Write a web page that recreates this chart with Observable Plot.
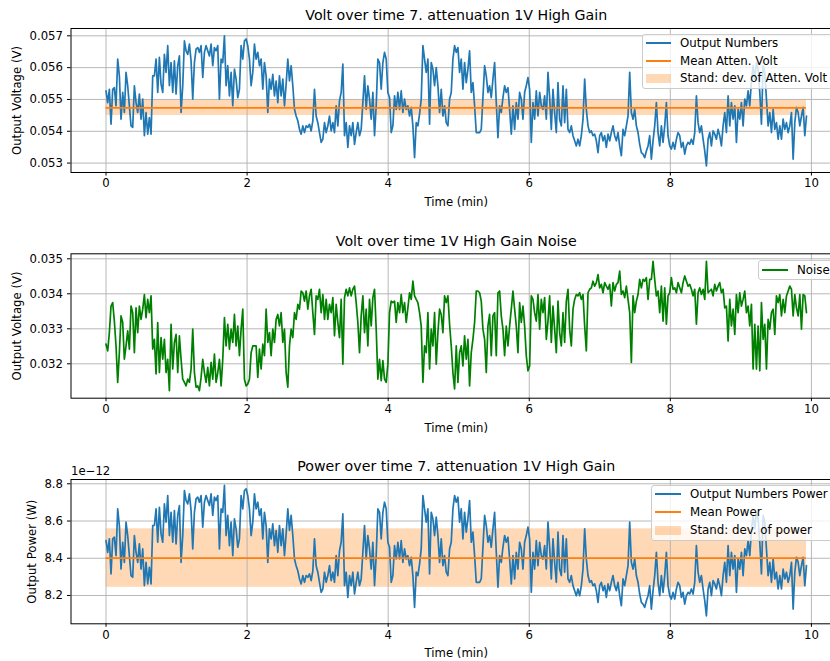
<!DOCTYPE html>
<html><head><meta charset="utf-8">
<script src="https://cdn.jsdelivr.net/npm/d3@7"></script>
<script src="https://cdn.jsdelivr.net/npm/@observablehq/plot@0.6"></script>
<style>
body{margin:0;background:#fff;}
#wrap{position:relative;width:830px;height:661px;overflow:hidden;font-family:"DejaVu Sans",sans-serif;background:#fff;}
.panel{position:absolute;left:0;width:830px;}
.legend{position:absolute;background:rgba(255,255,255,0.8);border:1px solid #cccccc;border-radius:3px;box-sizing:border-box;z-index:5;}
.lg-text{position:absolute;font-size:11.8px;line-height:16px;white-space:nowrap;color:#000;z-index:6;font-family:"DejaVu Sans",sans-serif;}
.lg-line{position:absolute;height:2px;z-index:6;}
.lg-patch{position:absolute;height:9px;z-index:6;}
</style></head><body><div id="wrap"></div><script>
// ---------- data ----------
const timeStartMin = 0;
const timeEndMin = 9.93;
const xTicks = [0, 2, 4, 6, 8, 10];

// Output Numbers (attenuated volt), millivolts
const voltMillivolts = [
55.27,54.90,55.32,54.22,55.32,55.37,54.80,56.27,55.74,54.38,
55.22,54.59,55.85,55.43,54.80,54.17,54.12,55.43,54.90,54.59,
55.17,54.38,55.01,53.86,54.59,53.91,54.43,53.91,55.74,55.74,
56.27,55.22,56.32,55.48,55.22,56.42,55.85,56.69,55.43,56.16,
55.22,56.21,55.17,56.06,56.37,54.59,55.43,56.84,56.53,56.42,
56.74,56.21,55.01,56.16,56.58,56.63,56.48,56.69,55.69,56.48,
56.69,56.53,56.37,56.74,56.06,56.63,56.53,56.69,55.01,56.27,
56.16,57.00,55.43,56.06,55.11,55.85,54.80,55.95,55.64,55.06,
55.32,56.69,56.27,56.84,56.90,56.69,56.27,55.43,55.85,56.74,
56.27,56.48,56.06,56.27,55.32,56.16,55.74,54.59,55.64,55.32,
55.79,55.11,55.58,54.90,55.74,55.11,55.64,54.80,55.48,56.27,
55.58,56.06,55.43,54.69,54.48,54.33,54.06,53.91,54.17,53.96,
54.17,54.12,54.22,54.01,54.33,55.32,54.48,54.27,53.96,53.65,
53.75,54.27,53.96,54.17,54.48,54.01,54.27,53.96,54.80,54.17,
54.96,55.22,56.11,53.86,54.27,53.49,54.17,53.86,54.27,53.59,
53.96,54.27,53.86,54.06,54.90,55.74,54.69,55.43,55.01,54.38,
55.22,53.86,54.80,56.27,56.16,55.32,56.16,56.48,56.27,55.22,
55.06,53.96,54.17,55.11,54.69,55.22,54.69,55.27,54.59,55.01,
54.69,54.80,54.48,54.75,54.17,53.17,54.27,54.17,54.54,55.01,
56.69,56.27,55.85,56.27,54.22,56.16,55.95,55.43,56.00,55.43,
54.59,55.32,54.48,54.80,54.27,54.17,55.01,
55.22,56.27,56.69,56.48,56.63,55.85,56.27,55.32,56.16,55.53,
55.95,56.53,55.22,55.53,54.80,53.96,53.96,53.96,54.06,55.06,
56.06,55.74,55.22,55.43,55.06,55.64,56.16,54.90,53.80,54.80,
54.59,55.06,55.43,55.22,55.37,54.69,53.91,54.80,54.06,54.90,
54.38,55.22,55.01,54.38,55.22,55.43,55.69,55.32,53.65,54.90,
54.38,55.27,54.48,55.22,54.80,54.69,55.11,54.38,55.85,55.06,
54.06,55.32,54.59,53.96,55.53,54.38,54.17,55.43,54.27,55.32,
54.06,53.96,54.17,53.86,53.70,53.54,53.75,53.54,53.86,54.38,
55.64,54.69,54.17,53.96,54.01,53.86,53.91,53.70,53.33,53.86,
53.96,53.70,53.86,53.49,53.91,53.70,53.96,54.17,53.86,53.70,
53.96,53.54,53.23,54.06,53.86,54.17,54.48,55.85,54.59,54.38,
54.69,54.17,53.96,53.59,53.33,53.28,53.17,53.38,53.54,53.86,
53.12,53.70,54.17,54.90,53.96,53.54,54.17,53.65,54.17,54.90,
53.86,53.54,53.44,53.65,53.44,53.75,53.96,53.86,53.49,53.65,
53.28,53.54,53.65,53.59,53.75,53.59,53.96,55.11,54.27,53.96,
54.17,53.75,53.38,52.91,53.75,53.96,53.54,54.01,53.91,53.75,
54.06,53.86,53.54,54.17,54.59,53.96,55.11,54.17,54.90,54.38,
54.80,53.65,54.69,54.38,54.90,54.17,55.01,54.80,55.27,54.80,
55.58,56.06,55.64,56.16,55.95,55.22,54.22,56.06,55.85,55.01,
54.17,54.59,53.96,54.69,54.06,54.27,53.75,54.17,53.75,54.38,
54.06,54.27,53.96,54.17,54.59,53.12,54.27,54.75,54.59,54.17,
54.48,54.75,53.86,54.48
];
const meanVoltV = 0.054736;
const stdVoltV = 0.00024;

// Noise, millivolts
const noiseMillivolts = [
32.56,32.37,32.89,33.65,33.75,33.22,32.51,31.47,32.32,33.37,
33.18,32.13,32.51,32.94,32.42,33.65,33.46,32.32,33.60,32.89,
33.65,33.27,33.56,33.98,33.32,33.84,33.46,33.94,32.42,32.70,
31.71,33.18,31.75,32.75,32.13,32.70,31.75,32.13,31.23,33.13,
31.85,32.61,32.84,31.75,32.80,32.13,31.56,31.47,31.37,31.56,
31.47,31.85,32.99,31.75,31.33,31.37,31.23,31.61,32.13,31.75,
31.47,31.90,31.37,32.04,31.56,32.28,31.47,31.75,32.13,31.37,
32.13,33.32,32.51,33.13,32.42,32.99,32.61,33.41,32.51,33.08,
32.23,32.99,33.56,31.56,31.37,31.42,31.56,32.32,32.51,32.51,
32.51,31.61,32.42,31.85,32.56,32.23,33.56,32.61,32.89,32.23,
32.99,32.61,33.27,33.41,33.08,33.46,32.61,32.99,31.75,31.33,
32.51,32.99,32.75,33.46,33.27,33.70,33.56,34.08,34.03,33.79,
34.08,33.56,33.94,34.13,33.46,32.84,33.94,33.84,34.13,33.46,
33.98,33.27,33.84,33.27,33.70,33.46,33.89,32.80,33.70,33.18,
32.75,33.84,31.99,33.89,34.13,33.94,34.17,33.94,34.13,34.22,
33.75,33.18,32.32,33.37,33.94,32.89,33.56,32.51,33.84,33.08,
33.89,34.13,32.99,31.56,32.13,31.52,32.09,31.56,31.47,31.99,
33.46,33.79,33.75,33.79,33.18,33.75,33.46,33.98,33.46,33.75,
33.18,33.60,34.03,33.84,34.36,33.94,33.84,33.75,33.46,33.08,
31.47,32.51,32.32,33.46,31.85,32.99,32.51,33.46,31.99,32.89,
33.56,33.41,32.89,33.94,33.75,33.94,33.13,
32.51,31.75,31.28,32.51,31.47,32.32,32.51,31.94,32.80,32.13,
32.70,31.37,32.32,32.70,33.18,34.08,34.08,34.03,33.79,32.99,
32.70,31.75,33.08,33.41,32.23,33.37,33.46,32.23,34.03,34.08,
33.37,32.99,32.23,33.08,32.51,33.08,33.56,34.08,33.56,33.08,
32.32,33.75,33.18,33.65,33.08,32.23,31.80,31.94,33.94,33.84,
33.46,33.22,33.98,32.99,33.84,33.46,33.89,32.70,33.22,33.94,
32.61,33.65,32.99,32.32,33.79,32.89,32.51,33.46,32.61,33.79,
34.13,32.99,32.51,33.56,33.84,33.98,33.94,34.03,33.84,33.98,
33.08,32.37,34.03,34.13,34.17,34.36,34.22,34.32,34.55,34.17,
34.27,34.03,34.32,34.22,34.13,34.27,33.65,34.32,34.08,34.27,
34.32,34.65,33.98,34.08,33.89,34.22,33.84,33.46,32.04,33.94,
33.46,33.79,33.98,34.41,34.17,34.41,34.36,34.46,33.84,34.41,
34.41,34.93,34.41,33.94,34.08,33.46,34.22,33.22,34.17,33.13,
33.94,34.03,34.46,34.13,34.17,34.03,34.32,34.17,34.03,34.32,
34.51,34.36,34.22,34.27,34.13,33.94,34.13,33.13,34.03,34.17,
33.98,34.13,33.84,34.93,34.03,34.08,34.13,33.94,34.27,34.08,
34.22,34.32,34.03,34.13,33.60,33.65,32.65,33.84,33.08,33.56,
32.84,33.98,33.46,34.03,33.65,33.84,34.08,33.46,33.65,33.08,
33.70,31.85,33.13,31.85,33.08,31.80,33.75,32.70,33.13,31.85,
33.27,32.99,33.46,33.56,32.84,33.94,33.75,33.98,33.37,33.84,
33.46,33.94,34.08,34.22,34.13,33.37,33.98,33.60,33.37,33.98,
32.99,33.98,33.94,33.46
];

// Output Numbers Power, in units of 1e-12 W
const powerPicowatts = [
8.495,8.432,8.504,8.316,8.504,8.513,8.414,8.665,8.576,8.342,
8.486,8.378,8.594,8.522,8.414,8.307,8.298,8.522,8.432,8.378,
8.477,8.342,8.450,8.253,8.378,8.262,8.351,8.262,8.576,8.576,
8.665,8.486,8.674,8.531,8.486,8.692,8.594,8.737,8.522,8.647,
8.486,8.656,8.477,8.630,8.683,8.378,8.522,8.764,8.710,8.692,
8.746,8.656,8.450,8.647,8.719,8.728,8.701,8.737,8.567,8.701,
8.737,8.710,8.683,8.746,8.630,8.728,8.710,8.737,8.450,8.665,
8.647,8.791,8.522,8.630,8.468,8.594,8.414,8.612,8.558,8.459,
8.504,8.737,8.665,8.764,8.773,8.737,8.665,8.522,8.594,8.746,
8.665,8.701,8.630,8.665,8.504,8.647,8.576,8.378,8.558,8.504,
8.585,8.468,8.549,8.432,8.576,8.468,8.558,8.414,8.531,8.665,
8.549,8.630,8.522,8.396,8.360,8.333,8.289,8.262,8.307,8.271,
8.307,8.298,8.316,8.280,8.333,8.504,8.360,8.325,8.271,8.217,
8.235,8.325,8.271,8.307,8.360,8.280,8.325,8.271,8.414,8.307,
8.441,8.486,8.638,8.253,8.325,8.190,8.307,8.253,8.325,8.208,
8.271,8.325,8.253,8.289,8.432,8.576,8.396,8.522,8.450,8.342,
8.486,8.253,8.414,8.665,8.647,8.504,8.647,8.701,8.665,8.486,
8.459,8.271,8.307,8.468,8.396,8.486,8.396,8.495,8.378,8.450,
8.396,8.414,8.360,8.405,8.307,8.136,8.325,8.307,8.369,8.450,
8.737,8.665,8.594,8.665,8.316,8.647,8.612,8.522,8.621,8.522,
8.378,8.504,8.360,8.414,8.325,8.307,8.450,
8.486,8.665,8.737,8.701,8.728,8.594,8.665,8.504,8.647,8.540,
8.612,8.710,8.486,8.540,8.414,8.271,8.271,8.271,8.289,8.459,
8.630,8.576,8.486,8.522,8.459,8.558,8.647,8.432,8.244,8.414,
8.378,8.459,8.522,8.486,8.513,8.396,8.262,8.414,8.289,8.432,
8.342,8.486,8.450,8.342,8.486,8.522,8.567,8.504,8.217,8.432,
8.342,8.495,8.360,8.486,8.414,8.396,8.468,8.342,8.594,8.459,
8.289,8.504,8.378,8.271,8.540,8.342,8.307,8.522,8.325,8.504,
8.289,8.271,8.307,8.253,8.226,8.199,8.235,8.199,8.253,8.342,
8.558,8.396,8.307,8.271,8.280,8.253,8.262,8.226,8.163,8.253,
8.271,8.226,8.253,8.190,8.262,8.226,8.271,8.307,8.253,8.226,
8.271,8.199,8.145,8.289,8.253,8.307,8.360,8.594,8.378,8.342,
8.396,8.307,8.271,8.208,8.163,8.154,8.136,8.172,8.199,8.253,
8.127,8.226,8.307,8.432,8.271,8.199,8.307,8.217,8.307,8.432,
8.253,8.199,8.181,8.217,8.181,8.235,8.271,8.253,8.190,8.217,
8.154,8.199,8.217,8.208,8.235,8.208,8.271,8.468,8.325,8.271,
8.307,8.235,8.172,8.091,8.235,8.271,8.199,8.280,8.262,8.235,
8.289,8.253,8.199,8.307,8.378,8.271,8.468,8.307,8.432,8.342,
8.414,8.217,8.396,8.342,8.432,8.307,8.450,8.414,8.495,8.414,
8.549,8.630,8.558,8.647,8.612,8.486,8.316,8.630,8.594,8.450,
8.307,8.378,8.271,8.396,8.289,8.325,8.235,8.307,8.235,8.342,
8.289,8.325,8.271,8.307,8.378,8.127,8.325,8.405,8.378,8.307,
8.360,8.405,8.253,8.360
];
const meanPowerPw = 8.401;
const stdPowerPw = 0.157;

const voltTicks = [0.053, 0.054, 0.055, 0.056, 0.057];
const noiseTicks = [0.032, 0.033, 0.034, 0.035];
const powerTicks = [8.2, 8.4, 8.6, 8.8];

// ---------- drawing ----------
function toSeries(values, scale) {
  const n = values.length;
  return values.map((v, i) => ({t: timeStartMin + i * (timeEndMin - timeStartMin) / (n - 1), v: v * scale}));
}

const wrap = document.getElementById("wrap");
const blue = "#1f77b4", orange = "#ff7f0e", green = "#008000";

function panel(o) {
  const marks = [];
  if (o.mean != null) {
    marks.push(Plot.rect([{x1: timeStartMin, x2: timeEndMin, y1: o.mean - o.std, y2: o.mean + o.std}],
      {x1: "x1", x2: "x2", y1: "y1", y2: "y2", fill: orange, fillOpacity: 0.3}));
  }
  marks.push(Plot.ruleX(xTicks, {x: d => d, stroke: "#b0b0b0", strokeWidth: 0.9}));
  marks.push(Plot.ruleY(o.yTicks, {y: d => d, stroke: "#b0b0b0", strokeWidth: 0.9}));
  marks.push(Plot.line(o.series, {x: "t", y: "v", stroke: o.stroke, strokeWidth: 1.7, clip: true}));
  if (o.mean != null) {
    marks.push(Plot.ruleY([o.mean], {y: d => d, x1: timeStartMin, x2: timeEndMin, stroke: orange, strokeWidth: 1.7}));
  }
  marks.push(Plot.frame({stroke: "#000", strokeWidth: 1}));
  marks.push(Plot.text([o.title], {text: d => d, frameAnchor: "top", dy: -12.7, fontSize: 14.2, lineAnchor: "middle", fill: "#000"}));
  marks.push(Plot.text(["Time (min)"], {text: d => d, frameAnchor: "bottom", dy: o.xlabelDy, lineAnchor: "middle", fill: "#000"}));
  marks.push(Plot.text([o.ylabel], {text: d => d, frameAnchor: "left", dx: o.ylabelDx, rotate: -90, lineAnchor: "middle", textAnchor: "middle", fill: "#000"}));
  if (o.offsetText) {
    marks.push(Plot.text([o.offsetText], {text: d => d, frameAnchor: "top-left", dy: -8.5, textAnchor: "start", lineAnchor: "middle", fill: "#000"}));
  }
  const chart = Plot.plot({
    width: 830,
    height: o.height,
    marginLeft: 70.5,
    marginRight: -11,
    marginTop: o.mt,
    marginBottom: o.mb,
    style: {fontFamily: "DejaVu Sans", fontSize: "11.7px", color: "#000", background: "transparent"},
    x: {domain: [-0.4965, 10.4265], ticks: xTicks, tickSize: 3.5, tickPadding: 3, tickFormat: d => String(d), label: null},
    y: {domain: o.yDomain, ticks: o.yTicks, tickSize: 3.5, tickPadding: 4.5, tickFormat: o.yFmt, label: null},
    marks
  });
  const div = document.createElement("div");
  div.className = "panel";
  div.style.top = o.top + "px";
  div.style.height = o.height + "px";
  div.appendChild(chart);
  wrap.appendChild(div);
}

panel({top: 0, height: 226, mt: 28, mb: 54, xlabelDy: 30,
  series: toSeries(voltMillivolts, 0.001), stroke: blue,
  yDomain: [0.052704, 0.05723], yTicks: voltTicks, yFmt: d3.format(".3f"),
  title: "Volt over time 7. attenuation 1V High Gain", ylabel: "Output Voltage (V)", ylabelDx: -53.8,
  mean: meanVoltV, std: stdVoltV});

panel({top: 226, height: 225, mt: 27.3, mb: 53.3, xlabelDy: 30,
  series: toSeries(noiseMillivolts, 0.001), stroke: green,
  yDomain: [0.031017, 0.035143], yTicks: noiseTicks, yFmt: d3.format(".3f"),
  title: "Volt over time 1V High Gain Noise", ylabel: "Output Voltage (V)", ylabelDx: -53.8});

panel({top: 451, height: 210, mt: 28, mb: 37.7, xlabelDy: 29,
  series: toSeries(powerPicowatts, 1), stroke: blue,
  yDomain: [8.048, 8.823], yTicks: powerTicks, yFmt: d3.format(".1f"),
  title: "Power over time 7. attenuation 1V High Gain", ylabel: "Output Power (W)", ylabelDx: -38.8,
  mean: meanPowerPw, std: stdPowerPw, offsetText: "1e\u221212"});

// ---------- legends ----------
function legend(box, rows) {
  const b = document.createElement("div");
  b.className = "legend";
  b.style.left = box.x + "px"; b.style.top = box.y + "px";
  b.style.width = (box.r - box.x) + "px"; b.style.height = (box.b - box.y) + "px";
  wrap.appendChild(b);
  rows.forEach(r => {
    const h = document.createElement("div");
    if (r.kind === "line") {
      h.className = "lg-line";
      h.style.top = (Math.round(r.y) - 1) + "px";
    } else {
      h.className = "lg-patch";
      h.style.top = (Math.round(r.y) - 4.5) + "px";
      h.style.opacity = 0.3;
    }
    h.style.left = Math.round(box.hx0) + "px"; h.style.width = Math.round(box.hx1 - box.hx0) + "px";
    h.style.background = r.color;
    wrap.appendChild(h);
    const t = document.createElement("div");
    t.className = "lg-text";
    t.textContent = r.label;
    t.style.left = box.tx + "px"; t.style.top = (r.y - 8) + "px";
    wrap.appendChild(t);
  });
}

legend({x: 641.7, y: 34.3, r: 837, b: 89, hx0: 645.7, hx1: 671, tx: 680}, [
  {kind: "line", color: blue, label: "Output Numbers", y: 43.3},
  {kind: "line", color: orange, label: "Mean Atten. Volt", y: 60.8},
  {kind: "patch", color: orange, label: "Stand: dev. of Atten. Volt", y: 78.3}
]);
legend({x: 758, y: 259.7, r: 837, b: 280.3, hx0: 761.7, hx1: 788, tx: 797}, [
  {kind: "line", color: green, label: "Noise", y: 269.5}
]);
legend({x: 651, y: 485, r: 837, b: 540.7, hx0: 655, hx1: 681, tx: 690}, [
  {kind: "line", color: blue, label: "Output Numbers Power", y: 494},
  {kind: "line", color: orange, label: "Mean Power", y: 511.8},
  {kind: "patch", color: orange, label: "Stand: dev. of power", y: 529.8}
]);
</script></body></html>
